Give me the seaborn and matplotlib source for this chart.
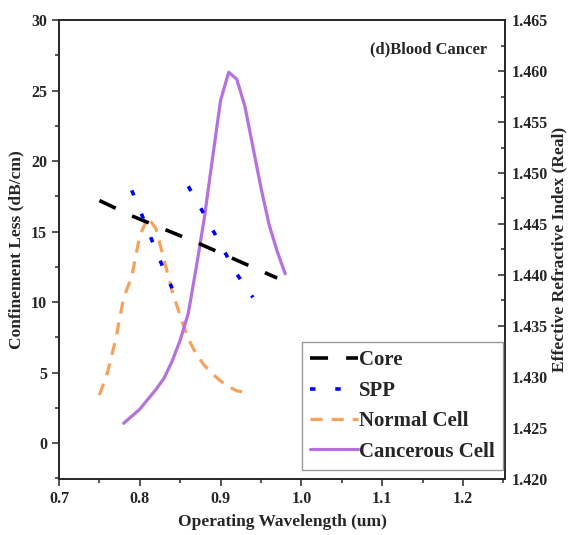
import seaborn as sns
import matplotlib.pyplot as plt
from matplotlib.ticker import MultipleLocator
from matplotlib.lines import Line2D
import pandas as pd

# data
core_wl = [0.75, 0.79, 0.83, 0.87, 0.91, 0.95, 0.97]
core_neff = [1.4473, 1.4458, 1.4445, 1.4432, 1.4418, 1.4404, 1.4397]

spp_wl = [0.79, 0.80, 0.81, 0.82, 0.83, 0.84, 0.86, 0.88, 0.90, 0.92, 0.94]
spp_neff = [1.4483, 1.4464, 1.4444, 1.4424, 1.4405, 1.4387,
            1.4487, 1.4459, 1.4430, 1.4401, 1.4378]
spp_seg = [1, 1, 1, 1, 1, 1, 2, 2, 2, 2, 2]

normal_wl = [0.75, 0.76, 0.77, 0.78, 0.79, 0.80, 0.81, 0.82, 0.83, 0.84,
             0.85, 0.86, 0.87, 0.88, 0.89, 0.90, 0.91, 0.92, 0.93]
normal_loss = [3.4, 5.0, 7.3, 10.3, 11.8, 14.7, 16.0, 15.2, 13.0, 10.8,
               9.0, 7.4, 6.3, 5.5, 4.9, 4.4, 4.0, 3.7, 3.6]

cancer_wl = [0.78, 0.79, 0.80, 0.81, 0.82, 0.83, 0.84, 0.85, 0.86, 0.87, 0.88,
             0.89, 0.90, 0.91, 0.92, 0.93, 0.94, 0.95, 0.96, 0.97, 0.98]
cancer_loss = [1.4, 1.9, 2.4, 3.1, 3.8, 4.6, 5.8, 7.3, 9.2, 12.5, 16.0,
               20.2, 24.3, 26.3, 25.8, 23.9, 21.0, 18.1, 15.5, 13.6, 12.0]

sns.set_style('ticks')
plt.rcParams['font.family'] = ['Liberation Serif', 'DejaVu Serif']
plt.rcParams['font.weight'] = 'bold'
plt.rcParams['axes.labelweight'] = 'bold'
plt.rcParams['axes.linewidth'] = 1.2

fig = plt.figure(figsize=(5.69, 5.35), dpi=100)
ax = fig.add_axes([0.1037, 0.1047, 0.7838, 0.8579])
ax2 = ax.twinx()

black = '#000000'
blue = '#0000ff'
orange = '#f5a35c'
purple = '#b472e0'

core_ls = (0, (5, 5))
spp_ls = (0, (1.5, 5.5))
normal_ls = (0, (3.8, 2.8))

# left axis: confinement loss
sns.lineplot(x=normal_wl, y=normal_loss, ax=ax, color=orange, lw=2.3,
             linestyle=normal_ls, sort=False, estimator=None)
sns.lineplot(x=cancer_wl, y=cancer_loss, ax=ax, color=purple, lw=2.3,
             sort=False, estimator=None)

# right axis: effective index
sns.lineplot(x=core_wl, y=core_neff, ax=ax2, color=black, lw=2.6,
             linestyle=core_ls, sort=False, estimator=None)
spp_df = pd.DataFrame({'wl': spp_wl, 'neff': spp_neff, 'seg': spp_seg})
sns.lineplot(data=spp_df, x='wl', y='neff', units='seg', estimator=None,
             ax=ax2, color=blue, lw=2.6, linestyle=spp_ls, sort=False)

ax.set_xlim(0.7, 1.252)
ax.set_ylim(-2.55, 30)
ax2.set_ylim(1.420, 1.465)

ax.xaxis.set_major_locator(MultipleLocator(0.1))
ax.xaxis.set_minor_locator(MultipleLocator(0.05))
ax.yaxis.set_major_locator(MultipleLocator(5))
ax.yaxis.set_minor_locator(MultipleLocator(2.5))
ax2.yaxis.set_major_locator(MultipleLocator(0.005))
ax2.yaxis.set_minor_locator(MultipleLocator(0.0025))
ax2.yaxis.set_major_formatter(plt.FormatStrFormatter('%.3f'))
ax.xaxis.set_major_formatter(plt.FormatStrFormatter('%.1f'))

ax.tick_params(axis='both', which='major', direction='out', length=5, width=1.1,
               labelsize=11.5)
ax.tick_params(axis='both', which='minor', direction='out', length=3, width=1.1)
ax2.tick_params(axis='y', which='major', direction='in', length=5, width=1.1,
                labelsize=11.5, pad=5)
ax2.tick_params(axis='y', which='minor', direction='in', length=3, width=1.1)
ax2.tick_params(axis='x', which='both', top=True, bottom=False, direction='in',
                labeltop=False, labelbottom=False, width=1.1)
ax2.tick_params(axis='x', which='major', length=5)
ax2.tick_params(axis='x', which='minor', length=3)

ax.set_xlabel('Operating Wavelength (um)', fontsize=12.5, labelpad=5)
ax.set_ylabel('Confinement Less (dB/cm)', fontsize=12.5, labelpad=5)
ax2.set_ylabel('Effective Refractive Index (Real)', fontsize=12.5, labelpad=2)

ax.text(0.96, 0.935, '(d)Blood Cancer', transform=ax.transAxes, ha='right',
        va='center', fontsize=12, fontweight='bold')

handles = [
    Line2D([], [], color=black, lw=2.6, linestyle=core_ls),
    Line2D([], [], color=blue, lw=2.6, linestyle=spp_ls),
    Line2D([], [], color=orange, lw=2.3, linestyle=normal_ls),
    Line2D([], [], color=purple, lw=2.3),
]
labels = ['Core', 'SPP', 'Normal Cell', 'Cancerous Cell']
leg = ax2.legend(handles, labels, loc='lower right',
                 bbox_to_anchor=(1 - 2 / 446, 9 / 459),
                 prop={'weight': 'bold', 'size': 15},
                 handlelength=2.3, handletextpad=0.05, labelspacing=0.5,
                 borderpad=0.4, borderaxespad=0, fancybox=False, framealpha=1,
                 edgecolor='#999999')
leg.get_frame().set_linewidth(1.0)

fig.savefig('out.png', dpi=100)
